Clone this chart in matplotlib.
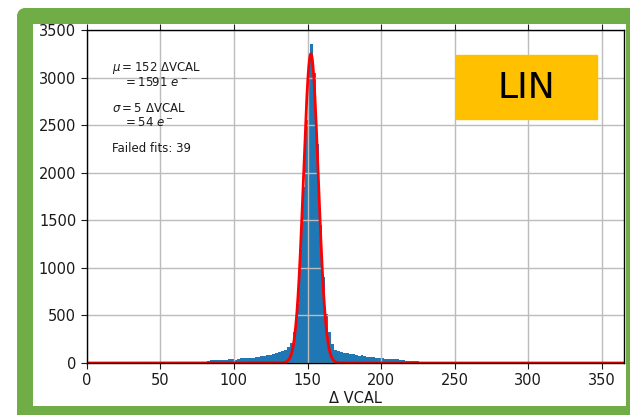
import numpy as np
import matplotlib
matplotlib.use("Agg")
import matplotlib.pyplot as plt
from matplotlib.patches import Rectangle, Circle

# ---- data ----
bin_width = 2
bin_start = 56
counts = [4, 5, 9, 6, 5, 7, 8, 7, 10, 9,
          12, 11, 14, 16, 30, 32, 31, 33, 32, 36,
          38, 42, 36, 45, 50, 48, 54, 56, 54, 62,
          66, 70, 74, 80, 88, 96, 108, 115, 125, 135,
          165, 210, 330, 620, 1200, 1850, 2550, 3150, 3350, 3050,
          2300, 1450, 900, 520, 330, 200, 140, 125, 115, 108,
          100, 96, 90, 84, 78, 80, 72, 65, 62, 58,
          54, 52, 48, 45, 42, 38, 40, 45, 33, 29,
          26, 24, 21, 19, 16, 14, 12, 10, 8, 6, 3]
fit_amp = 3250
fit_mu = 152.3
fit_sigma = 5.0
x_max = 365
y_max = 3500
xticks = [0, 50, 100, 150, 200, 250, 300, 350]
yticks = [0, 500, 1000, 1500, 2000, 2500, 3000, 3500]

W, H = 630, 415
fig = plt.figure(figsize=(W / 100, H / 100), dpi=100)
fig.patch.set_facecolor("white")

ax = fig.add_axes([86.7 / W, (H - 363) / H, (624 - 86.7) / W, (363 - 30) / H])

edges = bin_start + bin_width * np.arange(len(counts) + 1)
ax.hist(edges[:-1], bins=edges, weights=counts, color="#1f77b4", zorder=2)

xs = np.linspace(0, x_max, 2000)
ax.plot(xs, fit_amp * np.exp(-(xs - fit_mu) ** 2 / (2 * fit_sigma ** 2)),
        color="red", lw=2, zorder=4)

ax.set_xlim(0, x_max)
ax.set_ylim(0, y_max)
ax.set_xticks(xticks)
ax.set_yticks(yticks)
ax.grid(True, color="#bcbcbc", lw=1, zorder=3)
ax.set_axisbelow(False)
for s in ax.spines.values():
    s.set_zorder(5)
    s.set_linewidth(1.0)
ax.tick_params(labelsize=10.5, direction="out", length=4, top=True,
               colors="#1a1a1a")
ax.set_xlabel("Δ VCAL", fontsize=10.5, labelpad=2, color="#1a1a1a")

tfs = 8.5
def tx(px, py, s):
    ax.text((px - 86.7) / (624 - 86.7), (363 - py) / (363 - 30), s,
            transform=ax.transAxes, fontsize=tfs, va="center", ha="left",
            color="#1a1a1a", zorder=6)

tx(112, 68, r"$\mu = 152$ ΔVCAL")
tx(112, 82, r"   $= 1591\ e^-$")
tx(112, 109, r"$\sigma = 5$ ΔVCAL")
tx(112, 122, r"   $= 54\ e^-$")
tx(112, 149, "Failed fits: 39")

# ---- overlay: frame and LIN label ----
ov = fig.add_axes([0, 0, 1, 1], zorder=10)
ov.set_xlim(0, W)
ov.set_ylim(H, 0)
ov.axis("off")
ov.patch.set_alpha(0)

green = "#70AD47"
ov.add_patch(Rectangle((456, 55), 141, 64, color="#FFC000", zorder=1))
ov.text(526, 88, "LIN", fontsize=26, ha="center", va="center",
        color="black", family="DejaVu Sans", zorder=2)

ov.add_patch(Rectangle((17, 16), 16, H - 16, color=green, lw=0))
ov.add_patch(Rectangle((25, 8), W - 25, 16, color=green, lw=0))
ov.add_patch(Circle((25, 16), 8, color=green, lw=0))
ov.add_patch(Rectangle((17, 406), W - 17, 9, color=green, lw=0))
ov.add_patch(Rectangle((626, 8), 4, H - 8, color=green, lw=0))

fig.savefig("out.png", dpi=100)
